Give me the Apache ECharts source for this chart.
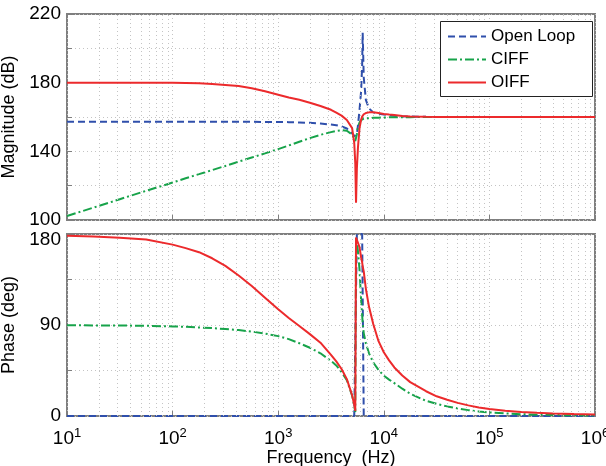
<!DOCTYPE html>
<html>
<head>
<meta charset="utf-8">
<script src="https://cdn.jsdelivr.net/npm/echarts@6/dist/echarts.min.js"></script>
<style>
  html, body { margin: 0; padding: 0; background: #fff; }
  #chart { width: 606px; height: 466px; }
</style>
</head>
<body>
<div id="chart"></div>
<script>
// Frequency points (Hz), denser around the resonance near 5.5–6.3 kHz
const freqHz = [10, 17.8, 31.6, 56.2, 100, 133, 178, 237, 316, 422, 562, 750,
  1000, 1259, 1585, 1995, 2512, 3162, 3548, 3981, 4467, 5012, 5248, 5370,
  5458, 5559, 5689, 5888, 6095, 6237, 6310, 6457, 6761, 7244, 7943, 8913,
  10000, 11220, 12589, 14962, 17783, 25119, 31623, 39811, 50119, 63096, 79433,
  100000, 141254, 199526, 281838, 398107, 630957, 1000000];

// Magnitude (dB)
const openLoopMag = [157.2, 157.2, 157.2, 157.2, 157.2, 157.2, 157.2, 157.2, 157.2, 157.2, 157.2, 157.1,
  157.1, 157.0, 156.8, 156.6, 156.2, 155.6, 155.2, 154.5, 153.3, 150.5, 148.8, 148.0,
  148.3, 150.0, 155.0, 164.0, 175.0, 190.0, 209.0, 183.0, 170.0, 165.0, 162.7, 161.9,
  161.4, 161.0, 160.7, 160.4, 160.3, 160.1, 160.0, 160.0, 160.0, 160.0, 160.0,
  160.0, 160.0, 160.0, 160.0, 160.0, 160.0, 160.0];
const ciffMag = [102.3, 107.2, 112.1, 117.0, 121.8, 124.3, 126.7, 129.1, 131.5, 134.0, 136.4, 138.8,
  141.3, 143.4, 145.6, 147.7, 149.6, 151.2, 151.9, 152.3, 152.0, 149.8, 147.5, 146.0,
  146.5, 150.0, 154.0, 156.8, 158.2, 158.7, 158.9, 159.1, 159.2, 159.3, 159.5, 159.6,
  159.7, 159.8, 159.8, 159.9, 159.9, 160.0, 160.0, 160.0, 160.0, 160.0, 160.0,
  160.0, 160.0, 160.0, 160.0, 160.0, 160.0, 160.0];
const oiffMag = [180.0, 180.0, 180.0, 180.0, 179.9, 179.8, 179.6, 179.2, 178.7, 178.0, 176.8, 175.0,
  173.0, 171.4, 170.0, 168.3, 166.4, 164.2, 162.5, 160.8, 158.3, 153.5, 145.0, 133.0,
  110.0, 130.0, 142.0, 153.5, 158.3, 160.2, 160.8, 161.6, 162.3, 162.7, 162.7, 162.3,
  161.8, 161.4, 161.1, 160.6, 160.3, 160.1, 160.0, 160.0, 160.0, 160.0, 160.0,
  160.0, 160.0, 160.0, 160.0, 160.0, 160.0, 160.0];

// Phase (deg)
const openLoopPhase = [0, 0, 0, 0, 0, 0, 0, 0, 0, 0, 0, 0,
  0, 0, 0, 0, 0, 0, 0, 0, 0, 0, 0, 0,
  0, 180, 180, 180, 180, 180, 180, 0, 0, 0, 0, 0,
  0, 0, 0, 0, 0, 0, 0, 0, 0, 0, 0,
  0, 0, 0, 0, 0, 0, 0];
const ciffPhase = [89.7, 89.6, 89.5, 89.2, 88.6, 88.2, 87.6, 86.9, 86.0, 85.0, 83.5, 81.5,
  79.0, 76.0, 72.0, 67.5, 62.0, 54.5, 50.0, 43.5, 35.5, 20.0, 10.0, 4.0,
  176.0, 172.0, 163.0, 145.0, 115.0, 100.0, 92.0, 82.0, 72.0, 62.0, 53.0, 45.5,
  40.0, 36.0, 32.5, 27.0, 22.0, 15.0, 12.0, 9.5, 7.5, 5.8, 4.5,
  3.5, 2.5, 1.8, 1.3, 1.0, 0.7, 0.5];
const oiffPhase = [178.3, 177.6, 176.4, 174.5, 169.5, 166.0, 162.0, 156.0, 148.5, 139.0, 128.5, 117.0,
  105.5, 97.0, 89.0, 81.0, 72.5, 60.5, 54.0, 46.5, 36.5, 20.5, 11.0, 5.0,
  176.5, 177.5, 175.0, 167.0, 157.0, 152.0, 148.0, 143.0, 126.0, 108.0, 91.0, 74.0,
  63.0, 55.0, 48.0, 40.0, 33.5, 24.5, 19.5, 16.0, 13.0, 10.5, 8.5,
  7.0, 5.2, 4.0, 3.1, 2.5, 1.9, 1.4];

const seriesNames = ['Open Loop', 'CIFF', 'OIFF'];
const magTicks = [100, 140, 180, 220];
const phaseTicks = [0, 90, 180];

const FONT = "'Liberation Sans', Arial, Helvetica, sans-serif";
const colors = ['#2f4fab', '#17a34a', '#ec2a2c'];
const lineTypes = [[7, 4], [9, 3, 2, 3], 'solid'];

// dotted minor grid lines at 2..9 within each decade
const minorLines = [];
for (let d = 1; d <= 5; d++) {
  for (let k = 2; k <= 9; k++) minorLines.push({ xAxis: k * Math.pow(10, d) });
}
const minorMark = {
  silent: true, symbol: 'none', animation: false,
  label: { show: false },
  lineStyle: { color: '#c4c4c4', width: 1, type: [1, 3] },
  data: minorLines
};

const pairs = (vals) => freqHz.map((f, i) => [f, vals[i]]);

const gridLine = { show: true, lineStyle: { color: '#c4c4c4', width: 1, type: [1, 3] } };

function makeX(idx, showLabels) {
  return {
    type: 'log', logBase: 10, gridIndex: idx, min: 10, max: 1e6, splitNumber: 5,
    axisLine: { show: false },
    axisTick: { show: true, inside: true, length: 5, lineStyle: { color: '#7f7f7f' } },
    splitLine: gridLine,
    axisLabel: showLabels ? {
      show: true, margin: 11, color: '#000',
      formatter: (v) => '{b|10}{s|' + Math.round(Math.log10(v)) + '}',
      rich: {
        b: { fontSize: 19, fontFamily: FONT, color: '#000' },
        s: { fontSize: 13, fontFamily: FONT, color: '#000', padding: [0, 0, 11, 0] }
      }
    } : { show: false },
    name: showLabels ? 'Frequency  (Hz)' : '',
    nameLocation: 'middle', nameGap: 29,
    nameTextStyle: { fontSize: 18, fontFamily: FONT, color: '#000' }
  };
}

function makeY(idx, min, max, interval, labels, name, gap) {
  return {
    type: 'value', gridIndex: idx, min: min, max: max, interval: interval,
    axisLine: { show: false },
    axisTick: { show: true, inside: true, length: 5, lineStyle: { color: '#7f7f7f' } },
    splitLine: gridLine,
    axisLabel: {
      color: '#000', fontSize: 19, fontFamily: FONT, margin: 6,
      // the top phase label sits a little below its tick, clear of the upper panel
      formatter: (v) => labels.indexOf(v) < 0 ? '' : (idx === 1 && v === max ? '{top|' + v + '}' : String(v)),
      rich: { top: { fontSize: 19, fontFamily: FONT, color: '#000', padding: [12, 0, 0, 0] } }
    },
    name: name, nameLocation: 'middle', nameGap: gap,
    nameTextStyle: { fontSize: 18, fontFamily: FONT, color: '#000' }
  };
}

const magData = [openLoopMag, ciffMag, oiffMag];
const phaseData = [openLoopPhase, ciffPhase, oiffPhase];
const series = [];
[magData, phaseData].forEach((set, g) => {
  set.forEach((vals, i) => {
    const s = {
      name: seriesNames[i], type: 'line', xAxisIndex: g, yAxisIndex: g,
      data: pairs(vals), showSymbol: false, symbol: 'none', animation: false,
      lineStyle: { color: colors[i], width: 2, type: lineTypes[i] },
      itemStyle: { color: colors[i] }, z: 3 + i
    };
    if (i === 0) s.markLine = minorMark;
    series.push(s);
  });
});

const chart = echarts.init(document.getElementById('chart'), null, { renderer: 'canvas' });
chart.setOption({
  backgroundColor: '#fff',
  animation: false,
  grid: [
    { left: 67, top: 14, right: 11, height: 206, show: true, borderColor: '#7f7f7f', borderWidth: 2,
      backgroundColor: 'transparent', containLabel: false, outerBoundsMode: 'none' },
    { left: 67, top: 234, right: 11, height: 182, show: true, borderColor: '#7f7f7f', borderWidth: 2,
      backgroundColor: 'transparent', containLabel: false, outerBoundsMode: 'none' }
  ],
  // framed white box behind the legend entries
  graphic: [{
    type: 'rect', left: 440, top: 21, z: 10,
    shape: { width: 152, height: 75 },
    style: { fill: '#fff', stroke: '#222', lineWidth: 1 }
  }],
  legend: {
    data: seriesNames, orient: 'vertical', left: 440, top: 23, z: 20,
    itemWidth: 38, itemHeight: 14, itemGap: 6,
    padding: [5, 6, 6, 7],
    itemStyle: { opacity: 0 },
    textStyle: { fontSize: 17, fontFamily: FONT, color: '#000' }
  },
  xAxis: [makeX(0, false), makeX(1, true)],
  yAxis: [
    makeY(0, 100, 220, 20, magTicks, 'Magnitude (dB)', 35),
    makeY(1, 0, 180, 45, phaseTicks, 'Phase (deg)', 35)
  ],
  series: series
});
</script>
</body>
</html>
